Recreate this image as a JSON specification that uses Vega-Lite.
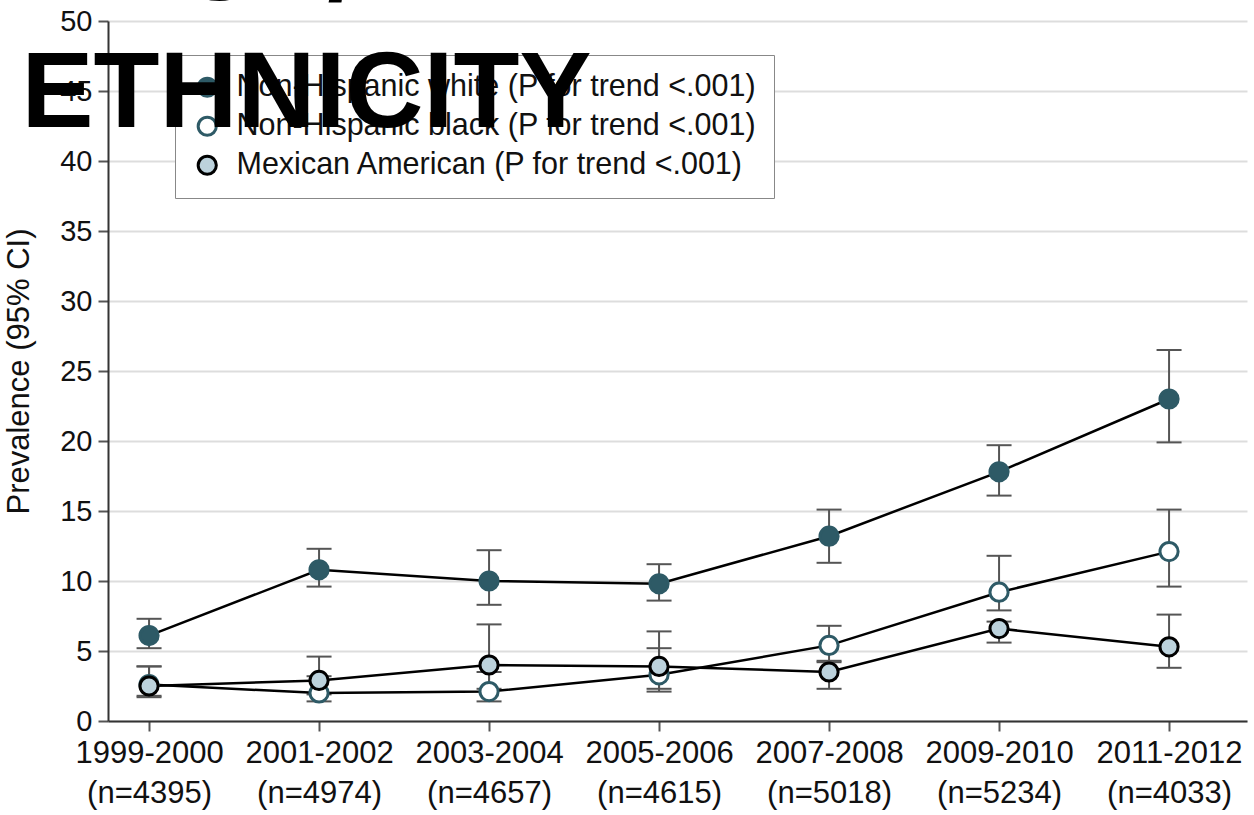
{
  "$schema": "https://vega.github.io/schema/vega-lite/v6.json",
  "width": 1139,
  "height": 700,
  "autosize": {"type": "none"},
  "padding": {"left": 108, "top": 21, "right": 7, "bottom": 94},
  "background": "white",
  "title": {
    "text": ["RACE/", "ETHNICITY"],
    "anchor": "start",
    "frame": "group",
    "orient": "top",
    "font": "Liberation Sans",
    "fontSize": 108,
    "fontWeight": "bold",
    "color": "#000000",
    "lineHeight": 127.5,
    "baseline": "alphabetic",
    "offset": 0,
    "dx": -86.5,
    "dy": 228
  },
  "config": {
    "font": "Liberation Sans",
    "view": {"stroke": null},
    "axis": {"labelFont": "Liberation Sans", "titleFont": "Liberation Sans"}
  },
  "data": {
    "values": [
      {"group": "Non-Hispanic white (P for trend <.001)", "period": "1999-2000 (n=4395)", "p": 6.1, "lo": 5.2, "hi": 7.3},
      {"group": "Non-Hispanic white (P for trend <.001)", "period": "2001-2002 (n=4974)", "p": 10.8, "lo": 9.6, "hi": 12.3},
      {"group": "Non-Hispanic white (P for trend <.001)", "period": "2003-2004 (n=4657)", "p": 10.0, "lo": 8.3, "hi": 12.2},
      {"group": "Non-Hispanic white (P for trend <.001)", "period": "2005-2006 (n=4615)", "p": 9.8, "lo": 8.6, "hi": 11.2},
      {"group": "Non-Hispanic white (P for trend <.001)", "period": "2007-2008 (n=5018)", "p": 13.2, "lo": 11.3, "hi": 15.1},
      {"group": "Non-Hispanic white (P for trend <.001)", "period": "2009-2010 (n=5234)", "p": 17.8, "lo": 16.1, "hi": 19.7},
      {"group": "Non-Hispanic white (P for trend <.001)", "period": "2011-2012 (n=4033)", "p": 23.0, "lo": 19.9, "hi": 26.5},
      {"group": "Non-Hispanic black (P for trend <.001)", "period": "1999-2000 (n=4395)", "p": 2.6, "lo": 1.8, "hi": 3.9},
      {"group": "Non-Hispanic black (P for trend <.001)", "period": "2001-2002 (n=4974)", "p": 2.0, "lo": 1.4, "hi": 3.2},
      {"group": "Non-Hispanic black (P for trend <.001)", "period": "2003-2004 (n=4657)", "p": 2.1, "lo": 1.4, "hi": 3.5},
      {"group": "Non-Hispanic black (P for trend <.001)", "period": "2005-2006 (n=4615)", "p": 3.3, "lo": 2.1, "hi": 5.2},
      {"group": "Non-Hispanic black (P for trend <.001)", "period": "2007-2008 (n=5018)", "p": 5.4, "lo": 4.3, "hi": 6.8},
      {"group": "Non-Hispanic black (P for trend <.001)", "period": "2009-2010 (n=5234)", "p": 9.2, "lo": 7.9, "hi": 11.8},
      {"group": "Non-Hispanic black (P for trend <.001)", "period": "2011-2012 (n=4033)", "p": 12.1, "lo": 9.6, "hi": 15.1},
      {"group": "Mexican American (P for trend <.001)", "period": "1999-2000 (n=4395)", "p": 2.5, "lo": 1.7, "hi": 3.9},
      {"group": "Mexican American (P for trend <.001)", "period": "2001-2002 (n=4974)", "p": 2.9, "lo": 1.9, "hi": 4.6},
      {"group": "Mexican American (P for trend <.001)", "period": "2003-2004 (n=4657)", "p": 4.0, "lo": 2.3, "hi": 6.9},
      {"group": "Mexican American (P for trend <.001)", "period": "2005-2006 (n=4615)", "p": 3.9, "lo": 2.3, "hi": 6.4},
      {"group": "Mexican American (P for trend <.001)", "period": "2007-2008 (n=5018)", "p": 3.5, "lo": 2.3, "hi": 4.2},
      {"group": "Mexican American (P for trend <.001)", "period": "2009-2010 (n=5234)", "p": 6.6, "lo": 5.6, "hi": 7.1},
      {"group": "Mexican American (P for trend <.001)", "period": "2011-2012 (n=4033)", "p": 5.3, "lo": 3.8, "hi": 7.6}
    ]
  },
  "encoding": {
    "x": {
      "field": "period",
      "type": "ordinal",
      "sort": null,
      "scale": {"type": "point", "padding": 0.35, "align": 0.345},
      "axis": {
        "title": null,
        "labelAngle": 0,
        "labelExpr": "split(datum.value, ' ')",
        "labelFontSize": 31,
        "labelColor": "#111111",
        "labelLineHeight": 40,
        "labelPadding": 7,
        "tickSize": 10,
        "tickWidth": 2,
        "tickColor": "#555555",
        "domainColor": "#333333",
        "domainWidth": 2,
        "grid": false
      }
    }
  },
  "layer": [
    {
      "mark": {"type": "rule", "color": "#555555", "strokeWidth": 2},
      "encoding": {
        "y": {
          "field": "lo",
          "type": "quantitative",
          "title": "Prevalence (95% CI)",
          "scale": {"domain": [0, 50], "nice": false, "zero": true},
          "axis": {
            "values": [0, 5, 10, 15, 20, 25, 30, 35, 40, 45, 50],
            "labelFontSize": 29,
            "labelColor": "#111111",
            "labelPadding": 6,
            "tickSize": 10,
            "tickWidth": 2,
            "tickColor": "#555555",
            "domainColor": "#333333",
            "domainWidth": 2,
            "gridColor": "#dddddd",
            "gridWidth": 2,
            "titleFontSize": 31,
            "titleFontWeight": "normal",
            "titleColor": "#111111",
            "titlePadding": 24
          }
        },
        "y2": {"field": "hi"}
      }
    },
    {
      "mark": {"type": "tick", "color": "#555555", "thickness": 2, "size": 25, "opacity": 1},
      "encoding": {"y": {"field": "lo", "type": "quantitative", "title": "Prevalence (95% CI)"}}
    },
    {
      "mark": {"type": "tick", "color": "#555555", "thickness": 2, "size": 25, "opacity": 1},
      "encoding": {"y": {"field": "hi", "type": "quantitative", "title": "Prevalence (95% CI)"}}
    },
    {
      "mark": {"type": "line", "color": "#000000", "strokeWidth": 2.5},
      "encoding": {
        "y": {"field": "p", "type": "quantitative", "title": "Prevalence (95% CI)"},
        "detail": {"field": "group"}
      }
    },
    {
      "mark": {"type": "point", "shape": "circle", "size": 330, "strokeWidth": 3, "opacity": 1},
      "encoding": {
        "y": {"field": "p", "type": "quantitative", "title": "Prevalence (95% CI)"},
        "fill": {
          "field": "group",
          "type": "nominal",
          "sort": null,
          "scale": {
            "domain": ["Non-Hispanic white (P for trend <.001)", "Non-Hispanic black (P for trend <.001)", "Mexican American (P for trend <.001)"],
            "range": ["#2e5a66", "#ffffff", "#bcd2dc"]
          },
          "legend": {
            "title": null,
            "orient": "none",
            "legendX": 67,
            "legendY": 34,
            "symbolType": "circle",
            "symbolSize": 330,
            "symbolStrokeWidth": 3,
            "labelFontSize": 30.5,
            "labelColor": "#111111",
            "labelOffset": 14,
            "labelLimit": 800,
            "rowPadding": 8,
            "padding": 17,
            "strokeColor": "#888888",
            "fillColor": "#ffffff",
            "symbolOpacity": 1
          }
        },
        "stroke": {
          "field": "group",
          "type": "nominal",
          "sort": null,
          "scale": {
            "domain": ["Non-Hispanic white (P for trend <.001)", "Non-Hispanic black (P for trend <.001)", "Mexican American (P for trend <.001)"],
            "range": ["#2e5a66", "#2e5a66", "#000000"]
          },
          "legend": {
            "title": null,
            "orient": "none",
            "legendX": 67,
            "legendY": 34,
            "symbolType": "circle",
            "symbolSize": 330,
            "symbolStrokeWidth": 3,
            "labelFontSize": 30.5,
            "labelColor": "#111111",
            "labelOffset": 14,
            "labelLimit": 800,
            "rowPadding": 8,
            "padding": 17,
            "strokeColor": "#888888",
            "fillColor": "#ffffff",
            "symbolOpacity": 1
          }
        }
      }
    }
  ]
}
